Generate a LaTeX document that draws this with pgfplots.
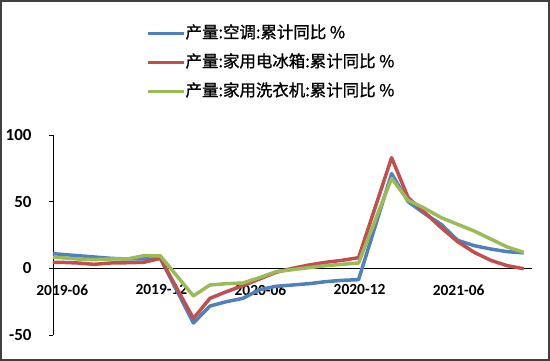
\documentclass[border=0pt]{standalone}
\usepackage{pgfplots}
\pgfplotsset{compat=1.18}
\usepackage{pgfplotstable}
\usepackage{fontspec}
\setmainfont{Carlito}
\newfontfamily\cjk[FakeBold=1.2]{Noto Sans CJK SC}
\definecolor{cblue}{HTML}{4F81BD}
\definecolor{cred}{HTML}{C0504D}
\definecolor{cgreen}{HTML}{9BBB59}
\pgfplotstableread{
m     ac     fr     wm
-0.5  11.5   4.5    8.5
0.5   10.5   4.5    8
1.5   9.5    4      7
2.5   8.5    3      6.5
3.5   7.5    4      7
4.5   7      4.2    7
5.5   7      4.5    9.5
6.5   7.5    7.5    9.3
8.5   -41    -37.6  -20.7
9.5   -28.3  -22.5  -12.5
10.5  -25    -17.5  -11.5
11.5  -22.5  -13    -11
12.5  -16    -8     -7
13.5  -13.5  -3     -2.5
14.5  -12.5  0      -1
15.5  -11.5  2.5    0.5
16.5  -10    4.5    2
17.5  -9     6      3
18.5  -8.5   8      4
20.5  71     83     67.5
21.5  50     53     51
22.5  41     42     45
23.5  33     30.5   38
24.5  21     20     33
25.5  17     12     28
26.5  14.5   6      22
27.5  12.5   2      16
28.5  11.6   -0.3   12
}\datatab
\begin{document}
\begin{tikzpicture}
\begin{axis}[
  scale only axis,
  width=479bp, height=200bp,
  xmin=0, xmax=29, ymin=-50, ymax=100,
  axis x line=middle, axis y line=left,
  axis line style={-, black, line width=0.8bp},
  xtick={0.5,6.5,12.5,18.5,24.5},
  xticklabels={2019-06,2019-12,2020-06,2020-12,2021-06},
  x tick style={draw=none},
  extra x ticks={6,12,18,24},
  extra x tick labels={},
  extra x tick style={major tick length=5bp, tick align=inside, tick style={draw=black, line width=0.8bp}},
  ytick={-50,0,50,100},
  y tick style={black, line width=0.8bp},
  major tick length=4bp,
  tick align=outside,
  xticklabel style={font=\fontsize{15.5}{16}\selectfont\bfseries, yshift=-9bp, xshift=1bp},
  yticklabel style={font=\fontsize{17}{18}\selectfont\bfseries, xshift=-14bp},
  /pgf/number format/assume math mode=true,
  legend style={at={(0.194,1.545)}, anchor=north west, draw=none, fill=none, inner sep=0pt,
    font=\cjk\fontsize{16.5}{17}\selectfont, row sep=14bp,
    nodes={inner sep=0pt, text height=12bp, text depth=3bp}},
  legend cell align=left,
  legend image code/.code={\draw[#1, line width=3.5bp] (0bp,0bp) -- (36bp,0bp);},
  every axis plot/.append style={line width=3.5bp, line join=round},
]
\addplot[cblue] table[x=m, y=ac] {\datatab};
\addlegendentry{产量:空调:累计同比 \%}
\addplot[cred] table[x=m, y=fr] {\datatab};
\addlegendentry{产量:家用电冰箱:累计同比 \%}
\addplot[cgreen] table[x=m, y=wm] {\datatab};
\addlegendentry{产量:家用洗衣机:累计同比 \%}
\end{axis}
\draw[line width=2bp, black!75] ([shift={(-52bp,-25bp)}]current axis.south west) rectangle ++(548bp,359bp);
\end{tikzpicture}
\end{document}
